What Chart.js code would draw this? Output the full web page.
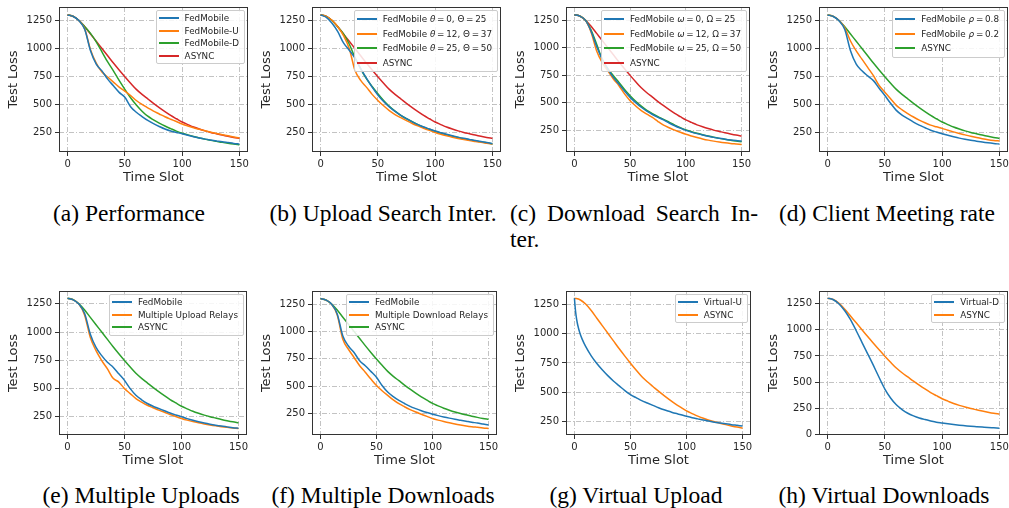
<!DOCTYPE html>
<html>
<head>
<meta charset="utf-8">
<script src="https://cdn.jsdelivr.net/npm/chart.js@4"></script>
<style>
  body { margin: 0; width: 1009px; height: 508px; overflow: hidden; background: #fff; position: relative; }
  canvas { position: absolute; }
  .legend { position: absolute; background: rgba(255,255,255,0.85); border: 1px solid #cccccc; border-radius: 2px;
            padding: 1px 5px 1px 2px; font-family: "DejaVu Sans"; font-size: 8.8px; color: #262626; white-space: nowrap; }
  .legend .row { display: flex; align-items: center; }
  .legend .sw { display: inline-block; width: 20px; height: 1.6px; margin-right: 6px; flex: none; }
  .cap { position: absolute; font-family: "Liberation Serif"; font-size: 23.5px; line-height: 26px; color: #000; white-space: nowrap; }
</style>
</head>
<body>

<div class="cap" style="left:129px;top:200px;transform:translateX(-50%)">(a) Performance</div>
<div class="cap" style="left:383px;top:200px;transform:translateX(-50%)">(b) Upload Search Inter.</div>
<div class="cap" style="left:510px;top:200px;width:248px;text-align:justify;text-align-last:justify">(c) Download Search In-</div>
<div class="cap" style="left:510px;top:226px">ter.</div>
<div class="cap" style="left:887px;top:200px;transform:translateX(-50%)">(d) Client Meeting rate</div>
<div class="cap" style="left:141px;top:482px;transform:translateX(-50%)">(e) Multiple Uploads</div>
<div class="cap" style="left:383px;top:482px;transform:translateX(-50%)">(f) Multiple Downloads</div>
<div class="cap" style="left:636px;top:482px;transform:translateX(-50%)">(g) Virtual Upload</div>
<div class="cap" style="left:884px;top:482px;transform:translateX(-50%)">(h) Virtual Downloads</div>

<script>
// time slots (every 5)
const T = [0,5,10,15,20,25,30,35,40,45,50,55,60,65,70,75,80,85,90,95,100,105,110,115,120,125,130,135,140,145,150];
// finer time grid for the Virtual-U curve (fast initial drop)
const TU = [0,1,2,3,5,7,10,15,20,25,30,35,40,45,50,55,60,65,70,75,80,85,90,95,100,105,110,115,120,125,130,135,140,145,150];

const X_TICKS = [0,50,100,150];
const Y_TICKS = [250,500,750,1000,1250];
const Y_TICKS_H = [0,250,500,750,1000,1250];

// ASYNC baseline (same in every panel)
const ASYNC = [1300,1287,1250,1195,1130,1065,1000,935,870,808,748,690,635,590,550,510,472,436,402,372,343,320,298,280,264,250,238,226,215,205,197];

// (a) Performance
const A_LABELS = ['FedMobile','FedMobile-U','FedMobile-D','ASYNC'];
const A_FED = [1300,1286,1248,1170,980,860,800,726,667,608,564,480,430,392,357,328,303,280,262,250,238,225,212,200,190,182,174,166,159,152,146];
const A_U   = [1300,1286,1248,1175,990,870,790,745,700,655,620,580,535,500,470,440,415,390,368,347,325,308,292,278,265,252,240,230,220,210,200];
const A_D   = [1300,1287,1250,1195,1135,1060,970,880,800,715,635,560,495,440,395,362,333,307,284,262,243,228,214,201,190,179,170,161,153,146,140];

// (b) Upload search interval
const B_LABELS = ['FedMobile <i>θ</i>\u2009=\u20090, Θ\u2009=\u200925','FedMobile <i>θ</i>\u2009=\u200912, Θ\u2009=\u200937','FedMobile <i>θ</i>\u2009=\u200925, Θ\u2009=\u200950','ASYNC'];
const B_0  = [1300,1278,1225,1150,1050,985,915,820,735,655,585,527,478,438,403,373,345,320,298,280,262,247,233,220,208,197,187,177,168,160,150];
const B_12 = [1300,1287,1252,1195,1115,1000,805,715,655,590,536,488,445,410,382,355,330,308,287,268,250,234,220,207,196,186,177,169,161,154,147];
const B_25 = [1300,1287,1250,1195,1130,1040,920,818,730,660,595,535,483,440,403,372,345,320,297,278,260,244,230,217,205,194,184,175,166,158,146];

// (c) Download search interval
const C_LABELS = ['FedMobile <i>ω</i>\u2009=\u20090, Ω\u2009=\u200925','FedMobile <i>ω</i>\u2009=\u200912, Ω\u2009=\u200937','FedMobile <i>ω</i>\u2009=\u200925, Ω\u2009=\u200950','ASYNC'];
const C_0  = [1300,1287,1248,1150,1010,895,804,730,669,605,548,500,458,423,392,366,343,315,290,268,248,232,218,205,194,184,176,168,161,155,150];
const C_12 = [1300,1287,1248,1140,970,864,789,715,654,580,518,470,428,395,365,328,295,272,250,230,212,197,183,170,159,150,142,135,129,124,119];
const C_25 = [1300,1287,1250,1160,1030,895,810,745,684,620,563,512,468,430,400,372,348,322,296,272,252,236,221,208,196,185,175,166,158,151,145];

// (d) Client meeting rate
const D_LABELS = ['FedMobile <i>ρ</i>\u2009=\u20090.8','FedMobile <i>ρ</i>\u2009=\u20090.2','ASYNC'];
const D_08 = [1300,1286,1248,1170,980,860,801,755,713,645,580,510,447,405,374,342,315,292,270,253,238,224,211,199,189,180,172,164,157,151,146];
const D_02 = [1300,1287,1250,1185,1067,978,905,831,757,669,610,551,492,452,419,388,360,336,315,300,286,270,255,241,228,215,204,194,185,178,173];

// (e) Multiple uploads
const E_LABELS = ['FedMobile','Multiple Upload Relays','ASYNC'];
const E_FED = [1300,1286,1248,1165,981,864,791,732,689,630,572,499,440,400,367,343,323,303,283,266,250,233,218,205,194,184,175,167,160,153,148];
const E_MUR = [1300,1286,1248,1150,952,835,747,674,590,557,499,455,411,380,352,330,308,290,270,252,235,220,207,196,186,177,169,162,156,151,146];

// (f) Multiple downloads
const F_LABELS = ['FedMobile','Multiple Download Relays','ASYNC'];
const F_FED = [1300,1286,1248,1160,958,867,807,732,687,635,581,506,446,405,370,342,316,295,276,259,244,231,219,208,198,189,180,171,163,154,145];
const F_MDR = [1300,1286,1248,1150,928,837,762,687,627,565,506,458,416,375,340,312,286,264,244,224,205,190,177,165,154,145,137,130,124,118,114];

// (g) Virtual upload
const G_LABELS = ['Virtual-U','ASYNC'];
const G_VU = [1300,1190,1120,1070,1000,950,890,810,745,690,640,595,555,515,480,455,430,410,390,370,352,337,322,310,297,285,275,265,256,247,240,233,226,220,214];

// (h) Virtual downloads
const H_LABELS = ['Virtual-D','ASYNC'];
const H_VD = [1300,1285,1245,1180,1095,990,880,770,660,545,435,350,285,240,205,180,160,145,132,120,112,104,97,91,86,81,77,73,69,66,63];

const BLUE = '#1f77b4', ORANGE = '#ff7f0e', GREEN = '#2ca02c', RED = '#d62728';
const FONT = 'DejaVu Sans';
const AXIS_W = 59, AXIS_H = 33, PAD_T = 8, PAD_R = 8, PAGE_W = 1009;

// plot boxes [left, top, right, bottom] and y ranges
const panels = [
  { box: [59, 6, 248, 152],   y: [75, 1371], yt: Y_TICKS, rowH: 12.5,
    series: [[A_LABELS[0], T, A_FED, BLUE], [A_LABELS[1], T, A_U, ORANGE], [A_LABELS[2], T, A_D, GREEN], [A_LABELS[3], T, ASYNC, RED]] },
  { box: [312, 6, 501, 152],  y: [75, 1371], yt: Y_TICKS, rowH: 14.5,
    series: [[B_LABELS[0], T, B_0, BLUE], [B_LABELS[1], T, B_12, ORANGE], [B_LABELS[2], T, B_25, GREEN], [B_LABELS[3], T, ASYNC, RED]] },
  { box: [566, 6, 750, 152],  y: [51, 1370], yt: Y_TICKS, rowH: 14.5,
    series: [[C_LABELS[0], T, C_0, BLUE], [C_LABELS[1], T, C_12, ORANGE], [C_LABELS[2], T, C_25, GREEN], [C_LABELS[3], T, ASYNC, RED]] },
  { box: [819, 6, 1008, 152], y: [75, 1371], yt: Y_TICKS, rowH: 14.5,
    series: [[D_LABELS[0], T, D_08, BLUE], [D_LABELS[1], T, D_02, ORANGE], [D_LABELS[2], T, ASYNC, GREEN]] },
  { box: [59, 290, 247, 435], y: [88, 1364], yt: Y_TICKS, rowH: 12.5,
    series: [[E_LABELS[0], T, E_FED, BLUE], [E_LABELS[1], T, E_MUR, ORANGE], [E_LABELS[2], T, ASYNC, GREEN]] },
  { box: [312, 290, 497, 435], y: [54, 1369], yt: Y_TICKS, rowH: 12.5,
    series: [[F_LABELS[0], T, F_FED, BLUE], [F_LABELS[1], T, F_MDR, ORANGE], [F_LABELS[2], T, ASYNC, GREEN]] },
  { box: [566, 290, 751, 435], y: [138, 1361], yt: Y_TICKS, rowH: 12.5,
    series: [[G_LABELS[0], TU, G_VU, BLUE], [G_LABELS[1], T, ASYNC, ORANGE]] },
  { box: [819, 290, 1008, 435], y: [-2, 1368], yt: Y_TICKS_H, rowH: 12.5,
    series: [[H_LABELS[0], T, H_VD, BLUE], [H_LABELS[1], T, ASYNC, ORANGE]] }
];

// full box round the plot area, like matplotlib spines
const framePlugin = {
  id: 'frame',
  afterDatasetsDraw(chart) {
    const { ctx, chartArea: a } = chart;
    ctx.save();
    ctx.strokeStyle = '#333333';
    ctx.lineWidth = 1;
    ctx.strokeRect(a.left + 0.5, a.top + 0.5, a.right - a.left - 1, a.bottom - a.top - 1);
    ctx.restore();
  }
};

function axisCommon() {
  return {
    grid: { color: '#b4b4b4', lineWidth: 0.8, tickColor: '#333333', tickWidth: 1, tickLength: 4, tickBorderDash: [] },
    border: { display: false, dash: [5, 2, 1, 2] }
  };
}

function makePanel(p) {
  const [l, t, r, b] = p.box;
  const cl = l - AXIS_W, ct = t - PAD_T;
  const cw = r - cl + PAD_R, ch = b - ct + AXIS_H;

  const cv = document.createElement('canvas');
  cv.width = cw;
  cv.height = ch;
  cv.style.left = cl + 'px';
  cv.style.top = ct + 'px';
  document.body.appendChild(cv);

  const datasets = p.series.map(s => ({
    label: s[0].replace(/<[^>]+>/g, ''),
    data: s[1].map((x, i) => ({ x: x, y: s[2][i] })),
    borderColor: s[3],
    borderWidth: 1.5,
    pointRadius: 0,
    fill: false,
    cubicInterpolationMode: 'monotone'
  }));

  new Chart(cv, {
    type: 'line',
    data: { datasets: datasets },
    plugins: [framePlugin],
    options: {
      responsive: false,
      animation: false,
      devicePixelRatio: 1,
      layout: { padding: { top: PAD_T, right: PAD_R, left: 0, bottom: 0 } },
      plugins: { legend: { display: false }, tooltip: { enabled: false } },
      scales: {
        x: Object.assign(axisCommon(), {
          type: 'linear', min: -7.5, max: 157.5,
          afterBuildTicks: s => { s.ticks = X_TICKS.map(v => ({ value: v })); },
          afterFit: s => { s.height = AXIS_H; },
          ticks: { font: { family: FONT, size: 10 }, color: '#262626', padding: 2, maxRotation: 0, autoSkip: false,
                   callback: v => String(v) },
          title: { display: true, text: 'Time Slot', font: { family: FONT, size: 13 }, color: '#262626',
                   padding: { top: 0, bottom: 0 } }
        }),
        y: Object.assign(axisCommon(), {
          type: 'linear', min: p.y[0], max: p.y[1],
          afterBuildTicks: s => { s.ticks = p.yt.map(v => ({ value: v })); },
          afterFit: s => { s.width = AXIS_W; },
          ticks: { font: { family: FONT, size: 10 }, color: '#262626', padding: 3, autoSkip: false,
                   callback: v => String(v) },
          title: { display: true, text: 'Test Loss', font: { family: FONT, size: 13 }, color: '#262626',
                   padding: { top: 5.5, bottom: 0 } }
        })
      }
    }
  });

  // legend box inside the upper right corner
  const lg = document.createElement('div');
  lg.className = 'legend';
  lg.style.right = (PAGE_W - r + 3) + 'px';
  lg.style.top = (t + 4) + 'px';
  lg.innerHTML = p.series.map(s =>
    `<div class="row" style="height:${p.rowH}px"><span class="sw" style="background:${s[3]}"></span><span>${s[0]}</span></div>`
  ).join('');
  document.body.appendChild(lg);
}

panels.forEach(makePanel);
</script>
</body>
</html>
